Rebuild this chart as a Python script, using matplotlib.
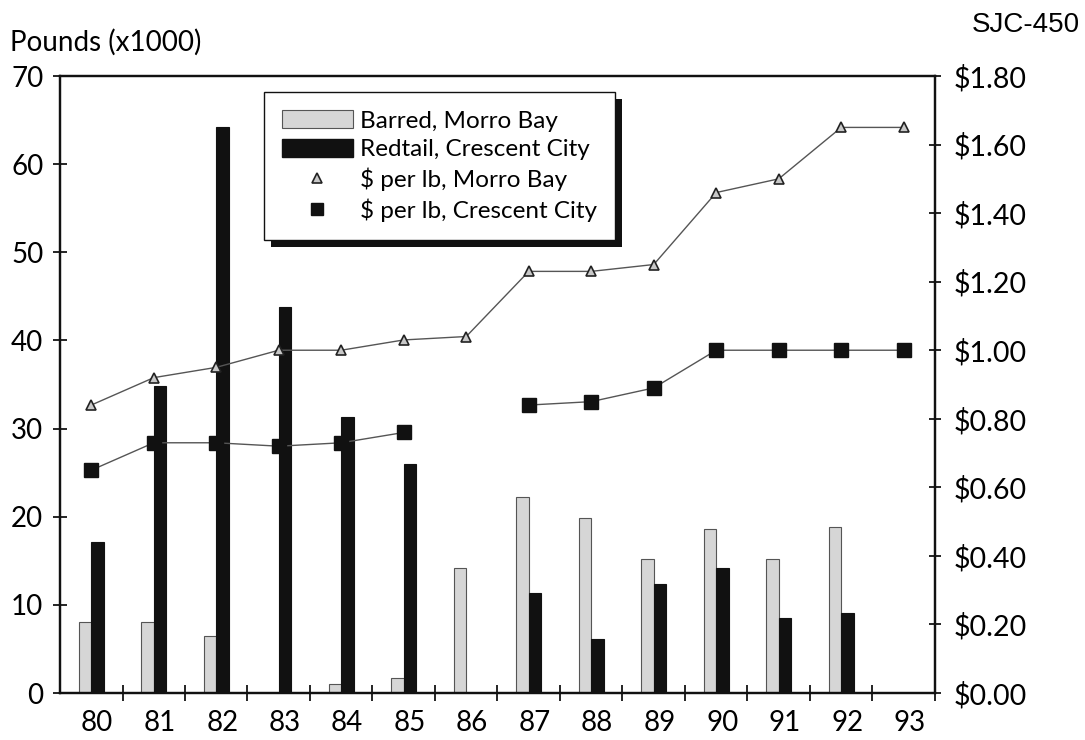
import matplotlib
matplotlib.use("Agg")
import matplotlib.pyplot as plt
import matplotlib.transforms as mtransforms
from matplotlib.patches import Patch, Rectangle
from matplotlib.lines import Line2D
import numpy as np

plt.rcParams['font.family'] = ['Lato', 'DejaVu Sans']

years = ['80', '81', '82', '83', '84', '85', '86', '87', '88', '89', '90', '91', '92', '93']
barred_morro_bay = [8.0, 8.0, 6.5, 0, 1.0, 1.7, 14.2, 22.2, 19.9, 15.2, 18.6, 15.2, 18.8, 0]
redtail_crescent_city = [17.1, 34.8, 64.2, 43.8, 31.3, 26.0, 0, 11.4, 6.1, 12.4, 14.2, 8.5, 9.1, 0]
price_morro_bay = [0.84, 0.92, 0.95, 1.00, 1.00, 1.03, 1.04, 1.23, 1.23, 1.25, 1.46, 1.50, 1.65, 1.65]
price_crescent_city = [0.65, 0.73, 0.73, 0.72, 0.73, 0.76, np.nan, 0.84, 0.85, 0.89, 1.00, 1.00, 1.00, 1.00]
left_ticks = [0, 10, 20, 30, 40, 50, 60, 70]
right_ticks = [0.0, 0.2, 0.4, 0.6, 0.8, 1.0, 1.2, 1.4, 1.6, 1.8]

W, H = 1085, 740
fig = plt.figure(figsize=(W / 100, H / 100), dpi=100)
L, R, B, T = 60, 935, 693, 76
ax = fig.add_axes([L / W, 1 - B / H, (R - L) / W, (B - T) / H])
ax2 = ax.twinx()

x = np.arange(len(years))
bw = 0.2
ax.bar(x - bw / 2, barred_morro_bay, width=bw, color='#d6d6d6', edgecolor='#555555', linewidth=0.8, zorder=2)
ax.bar(x + bw / 2, redtail_crescent_city, width=bw, color='#111111', edgecolor='#111111', linewidth=0.8, zorder=2)

ax2.plot(x, price_morro_bay, color='#555555', linewidth=1.0, marker='^', markersize=7.5,
         markerfacecolor='#c8c8c8', markeredgecolor='#222222', markeredgewidth=1.2, zorder=3)
ax2.plot(x, price_crescent_city, color='#555555', linewidth=1.0, marker='s', markersize=10,
         markerfacecolor='#111111', markeredgecolor='#111111', zorder=3)

ax.set_xlim(-0.5, len(years) - 0.5)
ax.set_ylim(0, 70)
ax2.set_ylim(0, 1.8)

ax.set_yticks(left_ticks)
ax.set_yticklabels([str(v) for v in left_ticks])
ax2.set_yticks(right_ticks)
ax2.set_yticklabels(['${:.2f}'.format(v) for v in right_ticks])

ax.set_xticks(x)
ax.set_xticklabels(years)
ax.set_xticks(np.arange(len(years)) + 0.5, minor=True)
ax.tick_params(axis='x', which='major', length=0, pad=12, labelsize=20)
ax.tick_params(axis='x', which='minor', direction='inout', length=12, width=1.2)
offset = mtransforms.ScaledTranslation(6 / 100, 0, fig.dpi_scale_trans)
for lab in ax.get_xticklabels():
    lab.set_transform(lab.get_transform() + offset)

ax.tick_params(axis='y', direction='inout', length=10, width=1.2, pad=7, labelsize=20)
ax2.tick_params(axis='y', direction='inout', length=9, width=1.2, pad=9, labelsize=20.5)

for a in (ax, ax2):
    for s in a.spines.values():
        s.set_linewidth(1.6)
        s.set_color('#111111')

fig.text(10 / W, 1 - 42 / H, 'Pounds (x1000)', fontsize=20, ha='left', va='center')
fig.text(1080 / W, 1 - 25 / H, 'SJC-450', fontsize=20, ha='right', va='center',
         family=['Liberation Sans', 'DejaVu Sans'])

handles = [
    Patch(facecolor='#d6d6d6', edgecolor='#555555', linewidth=0.8),
    Patch(facecolor='#111111', edgecolor='#111111'),
    Line2D([], [], linestyle='none', marker='^', markersize=7, markerfacecolor='#c8c8c8',
           markeredgecolor='#222222', markeredgewidth=1.2),
    Line2D([], [], linestyle='none', marker='s', markersize=8, markerfacecolor='#111111',
           markeredgecolor='#111111'),
]
labels = ['Barred, Morro Bay', 'Redtail, Crescent City', '$ per lb, Morro Bay', '$ per lb, Crescent City']
leg = fig.legend(handles, labels, loc='upper left', bbox_to_anchor=(264 / W, 1 - 92 / H),
                 bbox_transform=fig.transFigure, borderaxespad=0, fontsize=17.5,
                 frameon=True, fancybox=False, edgecolor='#111111', framealpha=1,
                 handlelength=2.9, handleheight=0.75, handletextpad=0.3, labelspacing=0.3,
                 borderpad=0.75)
leg.get_frame().set_linewidth(1.0)

fig.canvas.draw()
bb = leg.get_window_extent().transformed(fig.transFigure.inverted())
dx, dy = 7 / W, 7 / H
shadow = Rectangle((bb.x0 + dx, bb.y0 - dy), bb.width, bb.height, transform=fig.transFigure,
                   facecolor='#111111', edgecolor='none', zorder=leg.get_zorder() - 0.1)
fig.add_artist(shadow)

fig.savefig('out.png', dpi=100)
